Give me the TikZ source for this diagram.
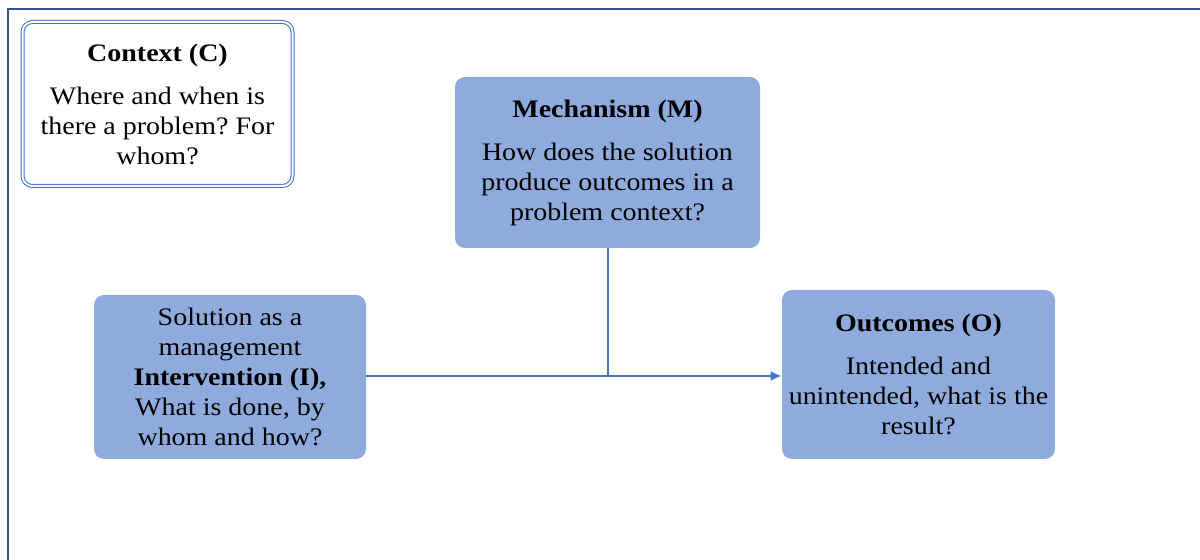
\documentclass[tikz,border=0pt]{standalone}
\usepackage{fontspec}
\setmainfont{Liberation Serif}[FakeStretch=1.11]
\usetikzlibrary{arrows.meta,positioning}
\definecolor{boxblue}{HTML}{8FAADC}
\definecolor{lineblue}{HTML}{4472C4}
\definecolor{frameblue}{HTML}{2F5597}
\frenchspacing
\begin{document}
\begin{tikzpicture}[x=0.5pt, y=-0.5pt, font=\fontsize{12.6}{15}\selectfont, >={Latex[length=5.5pt,width=5pt]},
  cbox/.style={fill=boxblue, rounded corners=5pt, align=center, inner sep=1pt},
  ctxbox/.style={draw=lineblue, double=white, double distance=1pt, line width=0.5pt, fill=white, rounded corners=5pt, align=center, inner sep=1pt},
  link/.style={draw=lineblue, line width=1pt}]
\useasboundingbox (0,0) rectangle (1200,560);
\draw[frameblue, line width=0.9pt] (1200,9) -- (8,9) -- (8,560);
\node[ctxbox, minimum width=135pt, minimum height=82pt] (ctx) at (157.5,104) {\textbf{Context (C)}\\[6.5pt] Where and when is\\ there a problem? For\\ whom?};
\node[cbox, minimum width=152.5pt, minimum height=85.5pt] (mech) at (607.5,162.5) {\textbf{Mechanism (M)}\\[6.5pt] How does the solution\\ produce outcomes in a\\ problem context?};
\node[cbox, minimum width=136pt, minimum height=82pt] (interv) at (230,377) {Solution as a\\ management\\ \textbf{Intervention (I),}\\ What is done, by\\ whom and how?};
\node[cbox, minimum width=136.5pt, minimum height=84.5pt] (outc) at (918.5,374.5) {\textbf{Outcomes (O)}\\[6.5pt] Intended and\\ unintended, what is the\\ result?};
\draw[link, ->] (interv.east |- 0,376) -- (outc.west |- 0,376);
\draw[link] (mech.south) -- (mech.south |- 0,376);
\end{tikzpicture}
\end{document}
